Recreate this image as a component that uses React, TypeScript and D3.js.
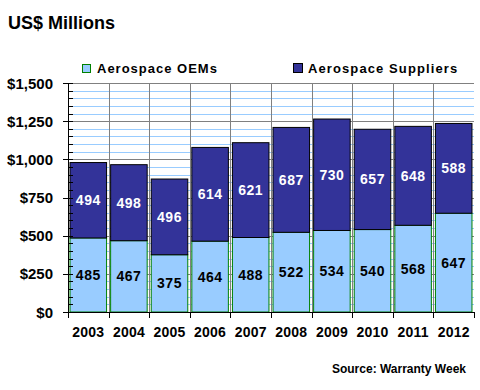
import React from 'react';
import * as d3 from 'd3';

const years = ['2003', '2004', '2005', '2006', '2007', '2008', '2009', '2010', '2011', '2012'];
const oems = [485, 467, 375, 464, 488, 522, 534, 540, 568, 647];
const suppliers = [494, 498, 496, 614, 621, 687, 730, 657, 648, 588];
const yTicks = [0, 250, 500, 750, 1000, 1250, 1500];
const seriesNames = ['Aerospace OEMs', 'Aerospace Suppliers'];

const FONT = 'Arial, "Liberation Sans", sans-serif';

const App = () => {
  const width = 480;
  const height = 390;
  const left = 68, right = 474, top = 83, bottom = 312;

  const x = d3.scaleBand().domain(years).range([left, right]).paddingInner(0.1).paddingOuter(0.05);
  const y = d3.scaleLinear().domain([0, 1500]).range([bottom, top]);
  const step = x.step();
  const minor = d3.range(0, 1501, 50);
  const fmt = (v: number) => '$' + d3.format(',')(v);

  return (
    <svg width={width} height={height} style={{ position: 'absolute', left: 0, top: 0 }} fontFamily={FONT}>
      <rect width={width} height={height} fill="#fff" />
      <text x={8} y={29} fontSize={18} fontWeight="bold">US$ Millions</text>

      {/* legend */}
      <rect x={82.5} y={64.5} width={8} height={8} fill="#99CCFF" stroke="#008000" />
      <text x={97} y={73} fontSize={13} fontWeight="bold" letterSpacing={1}>{seriesNames[0]}</text>
      <rect x={293.5} y={63.5} width={9} height={9} fill="#333399" stroke="#000" />
      <text x={308} y={73} fontSize={13} fontWeight="bold" letterSpacing={1.1}>{seriesNames[1]}</text>

      {/* gridlines */}
      {minor.filter(v => v % 250 !== 0).map(v => (
        <line key={'m' + v} x1={left} x2={right} y1={Math.round(y(v)) + 0.5} y2={Math.round(y(v)) + 0.5} stroke="#99CCFF" />
      ))}
      {yTicks.filter(v => v > 0).map(v => (
        <line key={'g' + v} x1={left} x2={right} y1={Math.round(y(v)) + 0.5} y2={Math.round(y(v)) + 0.5} stroke="#808080" />
      ))}
      {years.slice(1).map((yr, i) => {
        const xx = Math.round(left + (i + 1) * step) + 0.5;
        return <line key={'v' + yr} x1={xx} x2={xx} y1={top} y2={bottom} stroke="#808080" />;
      })}

      {/* bars */}
      {years.map((yr, i) => {
        const bx = x(yr)!;
        const bw = x.bandwidth();
        const o = oems[i], s = suppliers[i];
        return (
          <g key={yr}>
            <rect x={bx} y={y(o)} width={bw} height={y(0) - y(o)} fill="#99CCFF" stroke="#008000" strokeWidth={1} />
            <rect x={bx} y={y(o + s)} width={bw} height={y(o) - y(o + s)} fill="#333399" stroke="#000" strokeWidth={1} />
            <text x={bx + bw / 2} y={(y(0) + y(o)) / 2 + 5} textAnchor="middle" fontSize={14} fontWeight="bold" letterSpacing={0.5} fill="#000">{o}</text>
            <text x={bx + bw / 2} y={(y(o) + y(o + s)) / 2 + 5} textAnchor="middle" fontSize={14} fontWeight="bold" letterSpacing={0.5} fill="#fff">{s}</text>
          </g>
        );
      })}

      {/* y axis */}
      <line x1={left + 0.5} x2={left + 0.5} y1={top} y2={bottom + 1} stroke="#000" />
      {minor.map(v => (
        <line key={'mt' + v} x1={left} x2={left + 5} y1={Math.round(y(v)) + 0.5} y2={Math.round(y(v)) + 0.5} stroke="#000" />
      ))}
      {yTicks.map(v => (
        <g key={'t' + v}>
          <line x1={left - 5} x2={left} y1={Math.round(y(v)) + 0.5} y2={Math.round(y(v)) + 0.5} stroke="#000" />
          <text x={53} y={y(v) + 5.5} textAnchor="end" fontSize={15} fontWeight="bold">{fmt(v)}</text>
        </g>
      ))}

      {/* x axis */}
      <line x1={left} x2={right + 1} y1={bottom + 0.5} y2={bottom + 0.5} stroke="#000" />
      {d3.range(0, years.length + 1).map(i => {
        const xx = Math.round(left + i * step) + 0.5;
        return <line key={'xt' + i} x1={xx} x2={xx} y1={bottom} y2={bottom + 6} stroke="#000" />;
      })}
      {years.map(yr => (
        <text key={'xl' + yr} x={x(yr)! + x.bandwidth() / 2} y={337} textAnchor="middle" fontSize={14} fontWeight="bold" letterSpacing={0.2}>{yr}</text>
      ))}

      <text x={466} y={373} textAnchor="end" fontSize={12} fontWeight="bold">Source: Warranty Week</text>
    </svg>
  );
};

export default App;
